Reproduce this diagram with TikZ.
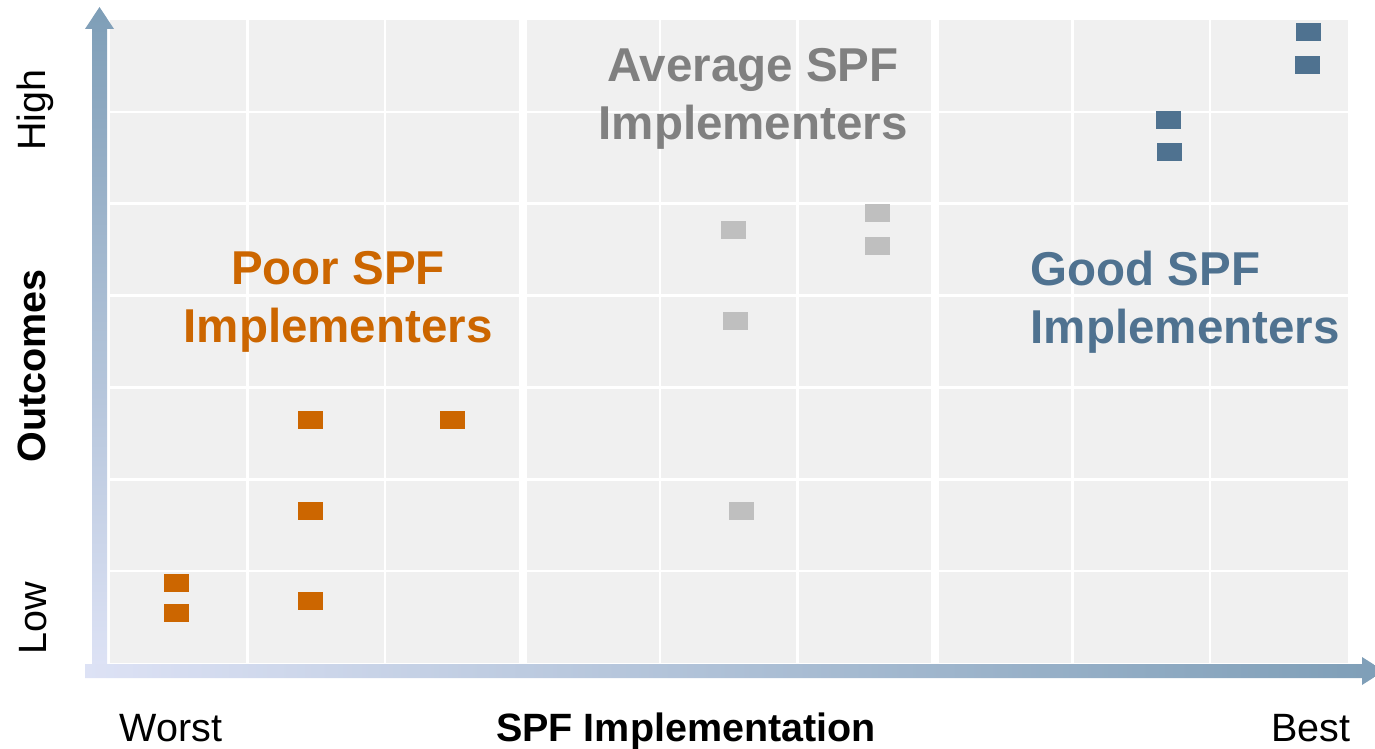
\documentclass[tikz,border=0pt]{standalone}
\usepackage{fontspec}
\setmainfont{Liberation Sans}
\definecolor{bgc}{HTML}{F0F0F0}
\definecolor{poorc}{HTML}{CC6600}
\definecolor{avgc}{HTML}{BFBFBF}
\definecolor{avgtxt}{HTML}{808080}
\definecolor{goodc}{HTML}{4F7290}
\definecolor{axdark}{HTML}{7E9EB7}
\definecolor{axmid}{HTML}{C0CCEF}
\definecolor{axlight}{HTML}{DDE2F5}
\begin{document}
\begin{tikzpicture}[x=1pt,y=-1pt,
  sq/.style={rectangle, minimum width=25pt, minimum height=18pt, inner sep=0pt, draw=none},
  poorsq/.style={sq, fill=poorc},
  avgsq/.style={sq, fill=avgc},
  goodsq/.style={sq, fill=goodc},
  grp/.style={font=\fontsize{47.5}{58}\selectfont\bfseries, inner sep=0pt},
  axl/.style={font=\fontsize{39.5}{45}\selectfont, inner sep=0pt, anchor=base},
  thin grid/.style={white, line width=2.7pt},
  thick grid/.style={white, line width=8pt}]
\useasboundingbox (0,0) rectangle (1375,749);
% grid background
\fill[bgc] (110,20) rectangle (1347.5,663);
\foreach \x in {247.5,385,660,797.5,1072.5,1210}
  \draw[thin grid] (\x,20) -- (\x,663);
\foreach \x in {522.5,935}
  \draw[thick grid] (\x,20) -- (\x,663);
\foreach \y in {111.9,203.7,295.6,387.4,479.3,571.1}
  \draw[thin grid] (110,\y) -- (1347.5,\y);
% axes
\shade[top color=axdark, middle color=axmid, bottom color=axlight]
  (92,664) -- (92,29) -- (85,29) -- (99.5,7) -- (114,29) -- (107,29) -- (107,664) -- cycle;
\shade[left color=axlight, middle color=axmid, right color=axdark]
  (85,664) -- (1362,664) -- (1362,657) -- (1384,671) -- (1362,685) -- (1362,678) -- (85,678) -- cycle;
% poor
\node[poorsq] (p1) at (310.5,420) {};
\node[poorsq] (p2) at (452.5,420) {};
\node[poorsq] (p3) at (310.5,511) {};
\node[poorsq] (p4) at (176.5,583) {};
\node[poorsq] (p5) at (176.5,613) {};
\node[poorsq] (p6) at (310.5,601) {};
% average
\node[avgsq] (a1) at (733.5,230) {};
\node[avgsq] (a2) at (877.5,213) {};
\node[avgsq] (a3) at (877.5,246) {};
\node[avgsq] (a4) at (735.5,321) {};
\node[avgsq] (a5) at (741.5,511) {};
% good
\node[goodsq] (g1) at (1308.5,32) {};
\node[goodsq] (g2) at (1307.5,65) {};
\node[goodsq] (g3) at (1168.5,120) {};
\node[goodsq] (g4) at (1169.5,152) {};
% group labels
\node[grp, text=poorc, align=center] (tpoor) at (338,302) {Poor SPF\\Implementers};
\node[grp, text=avgtxt, align=center] (tavg) at (753,99) {Average SPF\\Implementers};
\node[grp, text=goodc, align=left, anchor=west] (tgood) at (1030.5,302) {Good SPF\\Implementers};
% axis labels
\node[axl] (worst) at (171,741.5) {Worst};
\node[axl, font=\fontsize{39.5}{45}\selectfont\bfseries] (xlab) at (686,741.5) {SPF Implementation};
\node[axl] (best) at (1311,741.5) {Best};
\node[axl, rotate=90] (high) at (45,110) {High};
\node[axl, rotate=90, font=\fontsize{39.5}{45}\selectfont\bfseries] (ylab) at (45,366) {Outcomes};
\node[axl, rotate=90] (low) at (46,618) {Low};
\end{tikzpicture}
\end{document}
